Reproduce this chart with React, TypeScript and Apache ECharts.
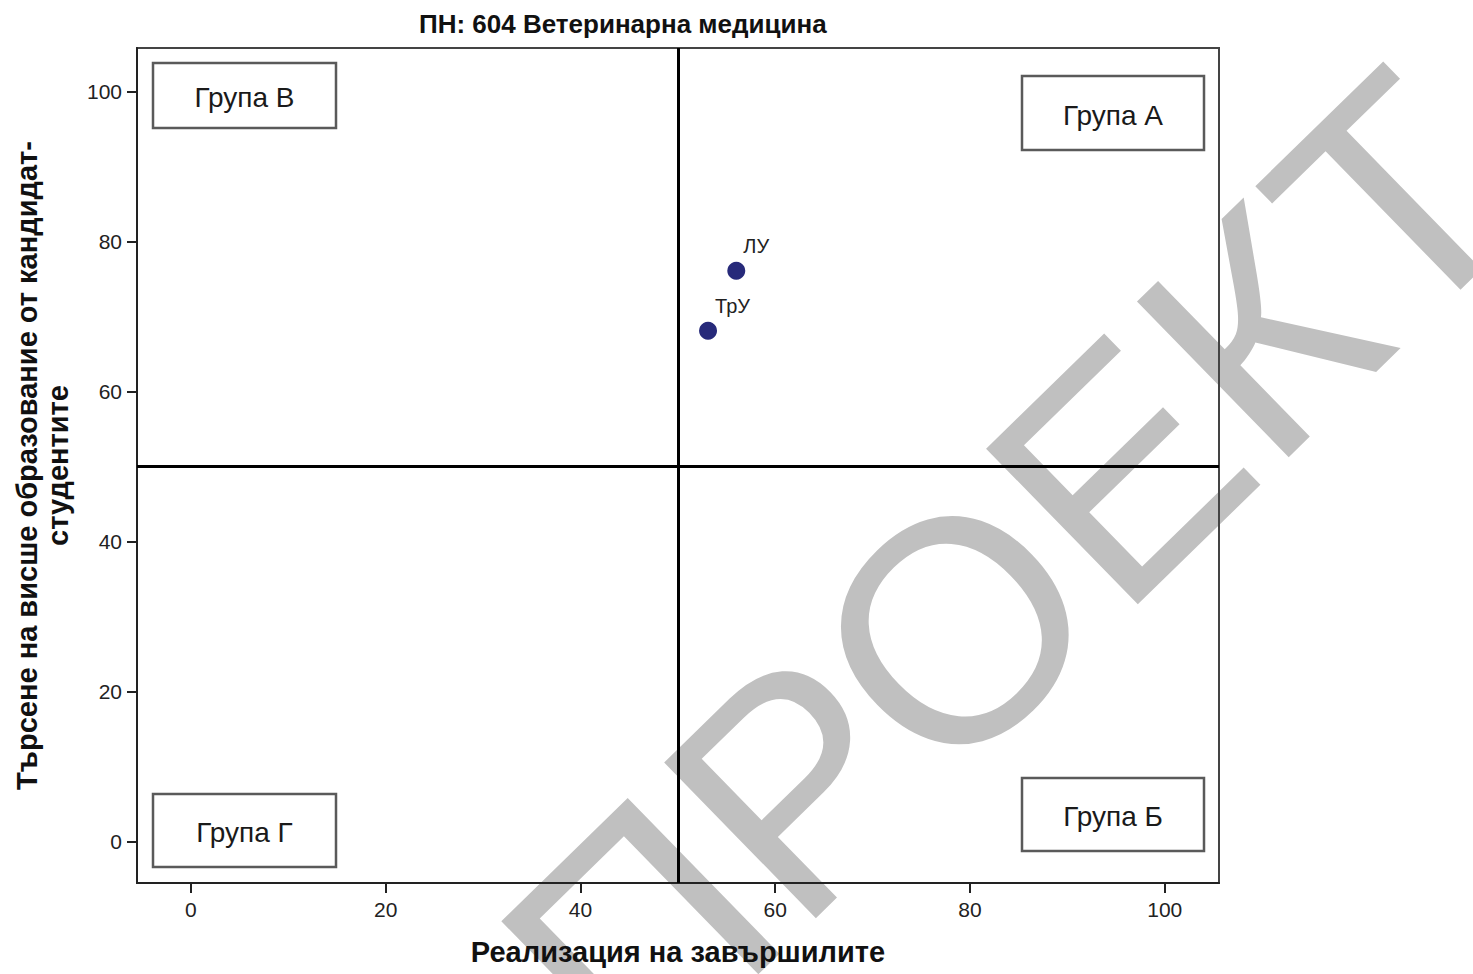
import React, { useEffect, useRef } from "react";
import * as echarts from "echarts";

const titleText = "ПН: 604 Ветеринарна медицина";
const xAxisTitle = "Реализация на завършилите";
const yAxisTitle = "Търсене на висше образование от кандидат-\nстудентите";
const pointNames = ["ЛУ", "ТрУ"];
const realizationValues = [56.0, 53.1];
const demandValues = [76.1, 68.1];
const xTicks = [0, 20, 40, 60, 80, 100];
const yTicks = [0, 20, 40, 60, 80, 100];
const quadrantX = 50;
const quadrantY = 50;
const groupLabels = ["Група В", "Група А", "Група Г", "Група Б"];
const watermarkText = "ПРОЕКТ";

const FONT = '"Liberation Sans", Arial, sans-serif';

export default function App() {
  const ref = useRef<HTMLDivElement>(null);
  useEffect(() => {
    if (!ref.current) return;
    const chart = echarts.init(ref.current, null, { renderer: "svg" });

    const boxes = [
      { x: 153, y: 63, w: 183, h: 65 },
      { x: 1022, y: 76, w: 182, h: 74 },
      { x: 153, y: 794, w: 183, h: 73 },
      { x: 1022, y: 778, w: 182, h: 73 },
    ];

    const graphics: any[] = [
      {
        type: "text",
        z: -10,
        x: 1011,
        y: 575,
        rotation: (44.3 * Math.PI) / 180,
        style: {
          text: watermarkText,
          fontSize: 316,
          fontFamily: FONT,
          fill: "#c0c0c0",
          align: "center",
          verticalAlign: "middle",
          textAlign: "center",
          textVerticalAlign: "middle",
        },
      },
    ];
    boxes.forEach((b, i) => {
      graphics.push({
        type: "rect",
        z: 10,
        shape: { x: b.x, y: b.y, width: b.w, height: b.h },
        style: { fill: "#ffffff", stroke: "#5a5a5a", lineWidth: 2.5 },
      });
      graphics.push({
        type: "text",
        z: 11,
        x: b.x + b.w / 2,
        y: b.y + b.h / 2 + 2,
        style: {
          text: groupLabels[i],
          fontSize: 28,
          fontFamily: FONT,
          fill: "#1a1a1a",
          align: "center",
          verticalAlign: "middle",
          textAlign: "center",
          textVerticalAlign: "middle",
        },
      });
    });

    const option: any = {
      animation: false,
      backgroundColor: "#ffffff",
      title: {
        text: titleText,
        left: 414,
        top: 6,
        textStyle: {
          fontFamily: FONT,
          fontWeight: "bold",
          fontSize: 26,
          color: "#111",
        },
      },
      grid: {
        left: 137,
        top: 48,
        right: 254,
        bottom: 91,
        show: true,
        borderColor: "#444",
        borderWidth: 2,
        backgroundColor: "transparent",
      },
      xAxis: {
        type: "value",
        min: -5.54,
        max: 105.57,
        name: xAxisTitle,
        nameLocation: "middle",
        nameGap: 54,
        nameTextStyle: {
          fontFamily: FONT,
          fontWeight: "bold",
          fontSize: 29,
          color: "#111",
        },
        axisLine: { show: true, onZero: false, lineStyle: { color: "#222", width: 2 } },
        axisTick: {
          show: true,
          length: 10,
          customValues: xTicks,
          lineStyle: { color: "#222", width: 2 },
        },
        axisLabel: {
          customValues: xTicks,
          margin: 16,
          fontFamily: FONT,
          fontSize: 21,
          color: "#222",
        },
        splitLine: { show: false },
      },
      yAxis: {
        type: "value",
        min: -5.55,
        max: 105.8,
        name: yAxisTitle,
        nameLocation: "middle",
        nameRotate: 90,
        nameGap: 64,
        nameTextStyle: {
          fontFamily: FONT,
          fontWeight: "bold",
          fontSize: 29,
          lineHeight: 31,
          color: "#111",
        },
        axisLine: { show: true, onZero: false, lineStyle: { color: "#222", width: 2 } },
        axisTick: {
          show: true,
          length: 10,
          customValues: yTicks,
          lineStyle: { color: "#222", width: 2 },
        },
        axisLabel: {
          customValues: yTicks,
          margin: 15,
          fontFamily: FONT,
          fontSize: 21,
          color: "#222",
        },
        splitLine: { show: false },
      },
      graphic: { elements: graphics },
      series: [
        {
          type: "scatter",
          z: 5,
          symbol: "circle",
          symbolSize: 18,
          itemStyle: { color: "#272a7a", opacity: 1 },
          label: {
            show: true,
            position: "top",
            align: "left",
            offset: [7, -1],
            formatter: (p: any) => pointNames[p.dataIndex],
            fontFamily: FONT,
            fontSize: 20,
            color: "#222",
          },
          data: realizationValues.map((v, i) => [v, demandValues[i]]),
          markLine: {
            silent: true,
            symbol: "none",
            label: { show: false },
            lineStyle: { color: "#000", width: 3, type: "solid" },
            data: [{ xAxis: quadrantX }, { yAxis: quadrantY }],
          },
        },
      ],
    };
    chart.setOption(option);
    return () => chart.dispose();
  }, []);

  return (
    <div
      ref={ref}
      style={{ position: "absolute", left: 0, top: 0, width: 1473, height: 974 }}
    />
  );
}
